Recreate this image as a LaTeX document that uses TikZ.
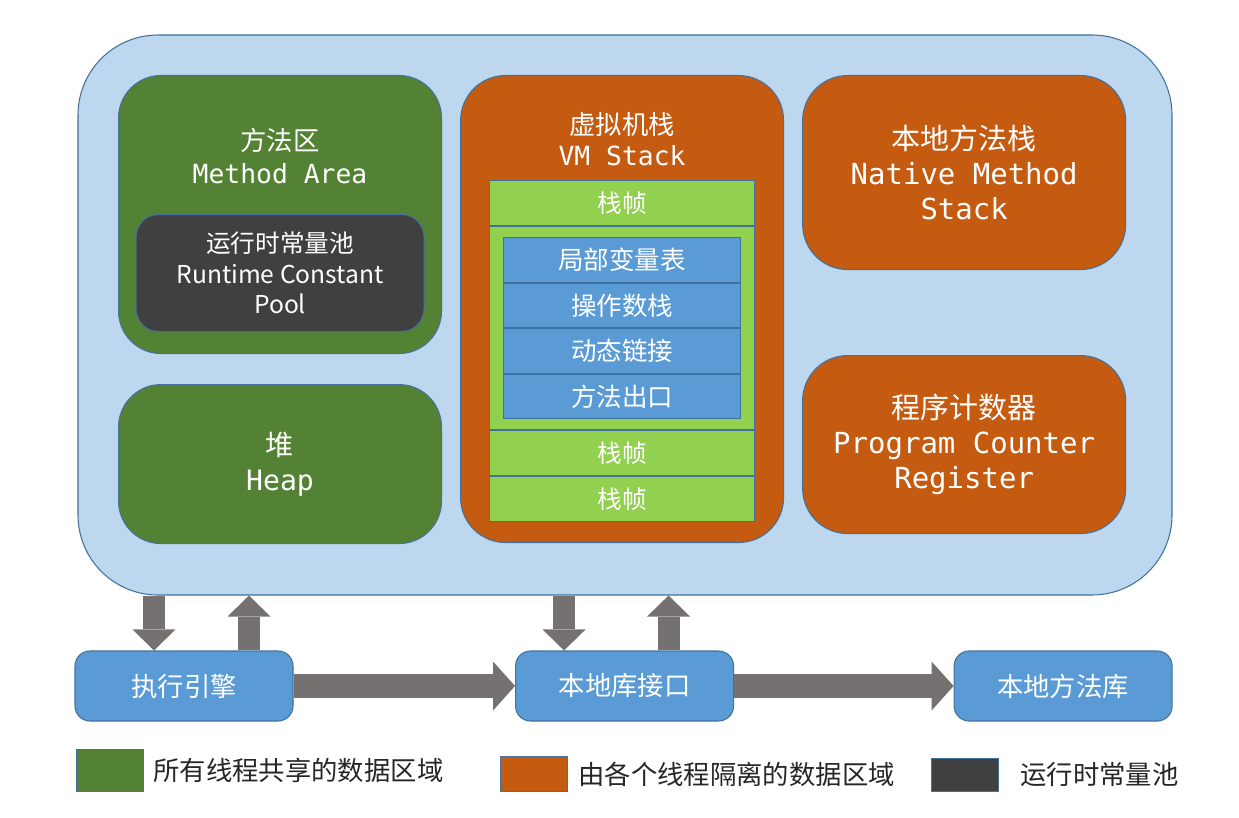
\documentclass[tikz,border=0pt]{standalone}
\usepackage{fontspec}
\setmainfont{Noto Sans CJK SC}
\setmonofont{DejaVu Sans Mono}
\usepackage{tikz}
\usetikzlibrary{arrows.meta,positioning}
\definecolor{jvmblue}{HTML}{BDD7EE}
\definecolor{edgeblue}{HTML}{41719C}
\definecolor{sharedgreen}{HTML}{548235}
\definecolor{poolgray}{HTML}{404040}
\definecolor{threadorange}{HTML}{C55A11}
\definecolor{framegreen}{HTML}{92D050}
\definecolor{slotblue}{HTML}{5B9BD5}
\definecolor{arrowgray}{HTML}{767171}

\begin{document}
\begin{tikzpicture}[
  area/.style={
    rectangle, draw=edgeblue, line width=0.6pt,
    text=white, align=center
  },
  title/.style={text=white, align=center},
  shared/.style={area, fill=sharedgreen, rounded corners=0.85cm, minimum width=6.46cm},
  private/.style={area, fill=threadorange, rounded corners=0.9cm, minimum width=6.46cm},
  stackframe/.style={area, fill=framegreen, minimum width=5.3cm, minimum height=0.9cm,
    font=\fontsize{14}{17}\selectfont},
  slot/.style={area, fill=slotblue, minimum width=4.74cm, minimum height=0.89cm,
    font=\fontsize{14.5}{17}\selectfont},
  module/.style={area, fill=slotblue, rounded corners=0.3cm, minimum width=4.36cm,
    minimum height=1.4cm, font=\fontsize{15}{18}\selectfont},
  flow/.style={line width=0.48cm, draw=arrowgray,
    -{Triangle[width=0.98cm, length=0.44cm, line width=0pt]}},
  io/.style={line width=0.44cm, draw=arrowgray,
    -{Triangle[width=0.86cm, length=0.42cm, line width=0pt]}},
  legbox/.style={rectangle, draw=edgeblue, line width=0.6pt, minimum width=1.34cm},
  legtxt/.style={font=\fontsize{15}{18}\selectfont, text=black!85, inner sep=0pt}
]
  \useasboundingbox (0,0) rectangle (24.78,-16.34);

  \node[area, fill=jvmblue, rounded corners=1.6cm, minimum width=21.88cm,
    minimum height=11.2cm] (jvm) at (12.5,-6.3) {};

  \node[shared, minimum height=5.56cm, anchor=north west] (ma) at (2.36,-1.5) {};
  \node[title, font=\fontsize{15}{18.5}\selectfont] (matitle) at ([yshift=-1.62cm]ma.north)
    {方法区\\\texttt{Method Area}};
  \node[area, fill=poolgray, rounded corners=0.45cm, minimum width=5.76cm,
    minimum height=2.34cm, below=2.78cm of ma.north,
    font=\fontsize{14}{17.5}\selectfont] (pool) {运行时常量池\\Runtime Constant\\Pool};
  \node[shared, minimum height=3.18cm, below=0.6cm of ma,
    font=\fontsize{16}{20}\selectfont] (heap) {堆\\\texttt{Heap}};

  \node[private, minimum height=9.34cm, below right=0cm and 0.36cm of ma.north east] (vm) {};
  \node[title, font=\fontsize{15}{17.6}\selectfont] (vmtitle) at ([yshift=-1.29cm]vm.north)
    {虚拟机栈\\\texttt{VM Stack}};
  \node[stackframe, below=2.1cm of vm.north] (f1) {栈帧};
  \node[stackframe, minimum height=4.06cm, below=0pt of f1] (f2) {};
  \node[slot, below=0.22cm of f2.north] (s1) {局部变量表};
  \node[slot, below=0pt of s1] (s2) {操作数栈};
  \node[slot, below=0pt of s2] (s3) {动态链接};
  \node[slot, below=0pt of s3] (s4) {方法出口};
  \node[stackframe, below=0pt of f2] (f3) {栈帧};
  \node[stackframe, below=0pt of f3] (f4) {栈帧};

  \node[private, minimum height=3.88cm, below right=0cm and 0.36cm of vm.north east,
    font=\fontsize{16.5}{20}\selectfont] (native)
    {本地方法栈\\\texttt{Native Method}\\\texttt{Stack}};
  \node[private, minimum height=3.56cm, below=1.7cm of native,
    font=\fontsize{16.5}{20}\selectfont] (pc)
    {程序计数器\\\texttt{Program Counter}\\\texttt{Register}};

  \node[module] (exec) at (3.68,-13.72) {执行引擎};
  \node[module, right=4.43cm of exec] (jni) {本地库接口};
  \node[module, right=4.39cm of jni] (natlib) {本地方法库};

  \draw[flow] (exec) -- (jni);
  \draw[flow] (jni) -- (natlib);

  \coordinate (execin) at ([xshift=-0.6cm]exec.north);
  \coordinate (execout) at ([xshift=1.3cm]exec.north);
  \coordinate (jniin) at ([xshift=-1.21cm]jni.north);
  \coordinate (jniout) at ([xshift=0.88cm]jni.north);
  \draw[io] (execin |- jvm.south) -- (execin);
  \draw[io] (execout) -- (execout |- jvm.south);
  \draw[io] (jniin |- jvm.south) -- (jniin);
  \draw[io] (jniout) -- (jniout |- jvm.south);

  \node[legbox, fill=sharedgreen, minimum height=0.84cm, anchor=south west] (lgshared) at (1.52,-15.84) {};
  \node[legtxt, right=0.18cm of lgshared] (ltshared) {所有线程共享的数据区域};
  \node[legbox, fill=threadorange, minimum height=0.7cm, anchor=south west] (lgthread) at (10.0,-15.84) {};
  \node[legtxt, right=0.2cm of lgthread] (ltthread) {由各个线程隔离的数据区域};
  \node[legbox, fill=poolgray, minimum height=0.66cm, anchor=south west] (lgpool) at (18.62,-15.84) {};
  \node[legtxt, right=0.42cm of lgpool] (ltpool) {运行时常量池};
\end{tikzpicture}
\end{document}
